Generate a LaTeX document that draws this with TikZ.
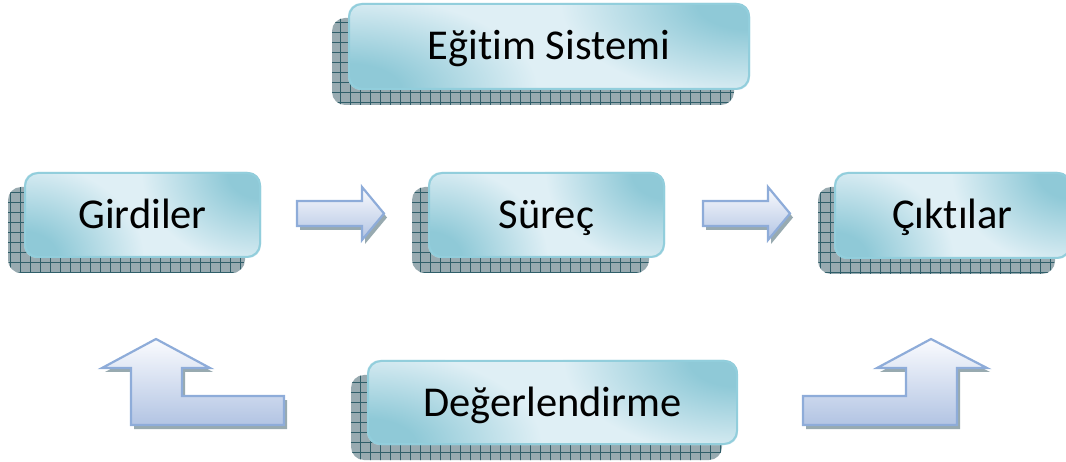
\documentclass[tikz,border=0pt]{standalone}
\usepackage{fontspec}
\setmainfont[Ligatures={NoCommon,NoRequired,NoContextual}]{Carlito}
\usetikzlibrary{patterns.meta,backgrounds}
\definecolor{boxborder}{HTML}{92CEDC}
\definecolor{boxdark}{HTML}{8FC9D7}
\definecolor{boxlight}{HTML}{DFEFF5}
\definecolor{shbase}{HTML}{98AAB0}
\definecolor{shgrid}{HTML}{2F5E69}
\definecolor{arrborder}{HTML}{8EACD9}
\definecolor{arrtop}{HTML}{FAFBFE}
\definecolor{arrbot}{HTML}{B2C4E3}
\pgfdeclareradialshading{cornerglow}{\pgfpoint{0bp}{0bp}}{color(0bp)=(boxdark); color(7bp)=(boxdark); color(25bp)=(boxlight); color(50bp)=(boxlight)}
\tikzset{
  mainbox/.style={draw=boxborder, line width=2pt, rounded corners=13pt,
    inner sep=0pt, text height=27pt, text depth=0pt,
    font=\fontsize{42.5}{50}\selectfont, text=black},
  shadowbase/.style={fill=shbase},
  gridh/.style={pattern={Lines[angle=0,distance=10pt,line width=0.7pt]}, pattern color=shgrid},
  gridv/.style={pattern={Lines[angle=90,distance=10pt,line width=0.7pt]}, pattern color=shgrid},
  glow/.style={shading=cornerglow},
  blockarrow/.style={draw=arrborder, line width=2.2pt, line join=miter,
    top color=arrtop, bottom color=arrbot},
  arrshadow/.style={fill=shbase, shift={(3,4)}},
}
\newcommand\boxshadow[1]{%
  \path[shadowbase, rounded corners=13pt] ([shift={(-16,15)}]#1.north west) rectangle ([shift={(-16,15)}]#1.south east);
  \path[gridh, rounded corners=13pt] ([shift={(-16,15)}]#1.north west) rectangle ([shift={(-16,15)}]#1.south east);
  \path[gridv, rounded corners=13pt] ([shift={(-16,15)}]#1.north west) rectangle ([shift={(-16,15)}]#1.south east);
}
\newcommand\boxfill[3]{% node, x radius, y radius
  \begin{scope}
    \clip[rounded corners=13pt] (#1.north west) rectangle (#1.south east);
    \fill[boxlight] (#1.north west) rectangle (#1.south east);
    \shade[glow] (#1.north east) ellipse [x radius=#2, y radius=#3];
    \shade[glow] (#1.south west) ellipse [x radius=#2, y radius=#3];
  \end{scope}
}
\newcommand\straightarrow[2]{% #1 options, #2 x offset
  \path[#1, xshift=#2] (297,201) -- (362,201) -- (362,187) -- (384,213.5) -- (362,240) -- (362,226) -- (297,226) -- cycle;}
\newcommand\bentleft[1]{%
  \path[#1] (156,339) -- (210,368) -- (182,368) -- (182,396) -- (284,396) -- (284,425) -- (131,425) -- (131,368) -- (102,368) -- cycle;}
\newcommand\bentright[1]{%
  \path[#1] (931,339) -- (987,368) -- (957,368) -- (957,425) -- (803,425) -- (803,396) -- (906,396) -- (906,368) -- (877,368) -- cycle;}
\begin{document}
\begin{tikzpicture}[x=1pt,y=-1pt]
  \useasboundingbox (0,0) rectangle (1066,462);
  \path[clip] (0,0) rectangle (1066,462);
  % boxes
  \node[mainbox, minimum width=400pt, minimum height=85pt] (egitim) at (549,46.5) {Eğitim Sistemi};
  \node[mainbox, minimum width=235pt, minimum height=84pt] (girdi) at (142.5,215) {Girdiler};
  \node[mainbox, minimum width=235pt, minimum height=84pt] (surec) at (546.5,215) {Süreç};
  \node[mainbox, minimum width=235pt, minimum height=85pt] (cikti) at (952.5,215.5) {Çıktılar};
  \node[mainbox, minimum width=369pt, minimum height=83pt] (deger) at (552.5,402.5) {Değerlendirme};
  \begin{scope}[on background layer]
    \boxshadow{egitim}
    \boxshadow{girdi}
    \boxshadow{surec}
    \boxshadow{cikti}
    \boxshadow{deger}
    \boxfill{egitim}{190pt}{95pt}
    \boxfill{girdi}{120pt}{95pt}
    \boxfill{surec}{120pt}{95pt}
    \boxfill{cikti}{120pt}{95pt}
    \boxfill{deger}{175pt}{95pt}
  \end{scope}
  % block arrows
  \straightarrow{arrshadow}{0pt}
  \straightarrow{blockarrow}{0pt}
  \straightarrow{arrshadow}{406pt}
  \straightarrow{blockarrow}{406pt}
  \bentleft{arrshadow}
  \bentleft{blockarrow}
  \bentright{arrshadow}
  \bentright{blockarrow}
\end{tikzpicture}
\end{document}
